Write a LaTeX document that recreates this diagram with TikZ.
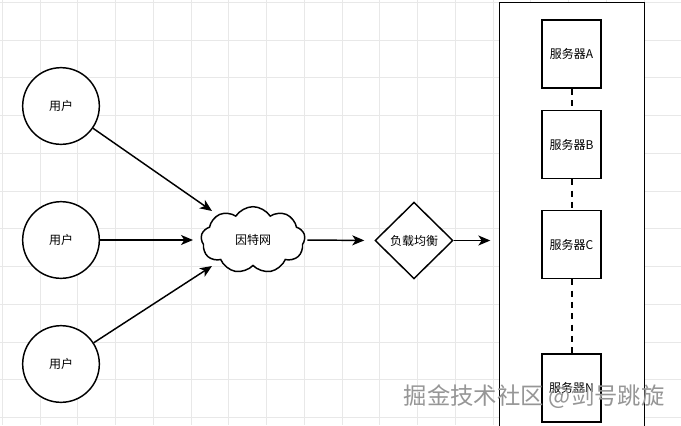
\documentclass[tikz,border=0pt]{standalone}
\usepackage{fontspec}
\setmainfont{Noto Sans CJK SC}
\usetikzlibrary{shapes.geometric, shapes.symbols, arrows.meta}
\definecolor{mygrid}{RGB}{232,232,232}
\definecolor{mymark}{RGB}{150,150,150}

\begin{document}
\begin{tikzpicture}[x=0.75pt, y=-0.75pt,
    every node/.style={font=\fontsize{9}{11}\selectfont},
    user/.style={circle, draw, line width=1.1pt, fill=white, minimum size=57.5pt, inner sep=0pt},
    server/.style={rectangle, draw, line width=1.1pt, fill=white, minimum width=44pt, minimum height=51pt, inner sep=0pt},
    link/.style={line width=1.1pt, -{Stealth[length=9pt, width=7.5pt, inset=2.5pt]}},
    dotlink/.style={line width=1.5pt, dash pattern=on 4.5pt off 4pt}]
    \clip (0, 0) rectangle (681, 425);
    \useasboundingbox (0, 0) rectangle (681, 425);
    \fill[white] (0, 0) rectangle (681, 425);

    % --- Background grid
    \foreach \k in {0,...,17} {
        \draw[mygrid, line width=0.5pt] (2.3+37.75*\k, 0) -- ++(0, 425);
        \draw[mygrid, line width=0.5pt] (0, 2.3+37.75*\k) -- ++(681, 0);
    }

    % Users (left)
    \node[user] (user1) at (61, 106) {用户};
    \node[user] (user2) at (61, 240) {用户};
    \node[user] (user3) at (61, 364) {用户};

    % Internet and load balancer
    \node[cloud, draw, line width=1.1pt, fill=white, cloud puffs=9, cloud puff arc=115,
        minimum width=78pt, minimum height=50pt, inner sep=0pt] (net) at (253, 240) {因特网};
    \node[diamond, draw, line width=1.1pt, fill=white, minimum width=58.5pt,
        minimum height=57.5pt, inner sep=0pt] (lb) at (414, 240.5) {负载均衡};

    % Server rack (right)
    \node[rectangle, draw, line width=1.1pt, fill=white, minimum width=108.75pt,
        minimum height=345pt, anchor=north west] (rack) at (499, 2) {};
    \node[server] (srvA) at (571.5, 54) {服务器A};
    \node[server] (srvB) at (571.5, 144.5) {服务器B};
    \node[server] (srvC) at (571.5, 244.5) {服务器C};
    \node[server] (srvN) at (571.5, 388) {服务器N};

    % Connectors
    \coordinate (in1) at (212, 211);
    \coordinate (in2) at (193, 240);
    \coordinate (in3) at (212, 266);
    \draw[link] (user1) -- (in1);
    \draw[link] (user2) -- (in2);
    \draw[link] (user3) -- (in3);
    \draw[link, shorten <=1.5pt, shorten >=7.5pt] (net.east) -- (lb.west);
    \draw[link, shorten >=6.5pt] (lb.east) -- (rack.west |- lb.east);
    \draw[dotlink] (srvA) -- (srvB);
    \draw[dotlink] (srvB) -- (srvC);
    \draw[dotlink] (srvC) -- (srvN);

    % Watermark
    \node[font=\fontsize{17.5}{20}\selectfont, text=mymark, anchor=west] (mark) at (399, 397) {掘金技术社区 @剑号跳旋};
\end{tikzpicture}
\end{document}
